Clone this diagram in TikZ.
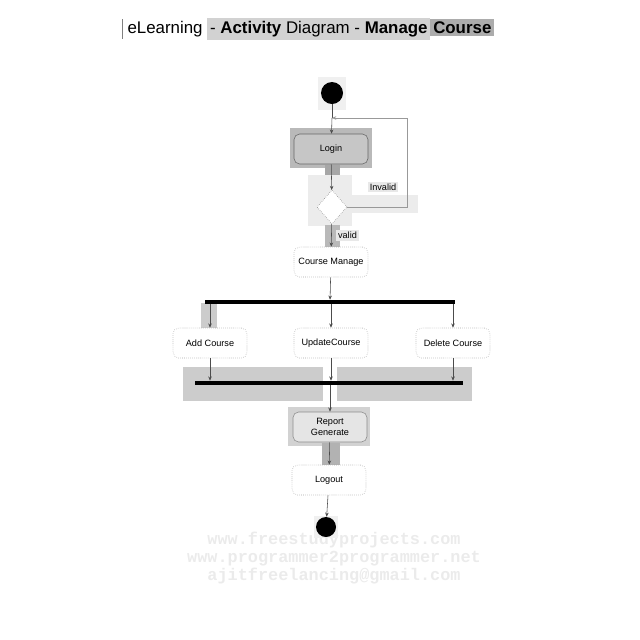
\documentclass[tikz,border=0pt]{standalone}
\usepackage{fontspec}
\setmainfont{Liberation Sans}
\setmonofont{Liberation Mono}
\usetikzlibrary{shapes.geometric,arrows.meta}
\tikzset{
	act/.style={draw=gray!70, densely dotted, rounded corners=4pt, fill=white,
		minimum width=1.85cm, minimum height=0.75cm, inner sep=1pt,
		font=\fontsize{6.5}{7.5}\selectfont, align=center},
	bar/.style={fill=black, minimum height=0.1cm, inner sep=0pt},
	flow/.style={draw=black!70, -{Stealth[length=3pt,width=2.5pt]}},
	dot/.style={fill=black, circle, inner sep=0pt},
	tag/.style={font=\fontsize{6.5}{7.5}\selectfont, fill=gray!18, inner sep=1.5pt}
}
\begin{document}
\begin{tikzpicture}[x=0.025cm,y=-0.025cm]
	\useasboundingbox (0,0) rectangle (640,640);
	% title
	\node[font=\fontsize{12}{14}\selectfont, inner sep=0pt, anchor=west] (title) at (122,29)
		{\setlength{\fboxsep}{2pt}{\color{gray}\vrule height 10pt depth 4pt}\ eLearning \colorbox{gray!35}{- \textbf{Activity} Diagram - \textbf{Manage}}\colorbox{gray!65}{\textbf{Course}}};
	% watermark
	\node[font=\fontsize{12}{13}\ttfamily\bfseries, text=gray!16, align=center] (mark) at (334,558)
		{www.freestudyprojects.com\\www.programmer2programmer.net\\ajitfreelancing@gmail.com};
	% highlights
	\fill[gray!12] (318,77) rectangle (346,110);
	\fill[gray!55] (290,128) rectangle (372,168);
	\fill[gray!70] (325,165) rectangle (340,195);
	\fill[gray!15] (308,175) rectangle (352,226);
	\fill[gray!15] (350,195) rectangle (418,213);
	\fill[gray!55] (325,225) rectangle (340,248);
	\fill[gray!40] (201,303) rectangle (217,328);
	\fill[gray!40] (183,367) rectangle (323,401);
	\fill[gray!40] (337,367) rectangle (472,401);
	\fill[gray!35] (288,407) rectangle (370,446);
	\fill[gray!60] (322,443) rectangle (340,465);
	\fill[gray!12] (314,516) rectangle (338,538);
	% nodes
	\node[dot, minimum size=0.55cm] (start) at (332,93) {};
	\coordinate (merge) at (332,118);
	\node[act, solid, draw=black!60, fill=gray!45] (login) at (331,149) {Login};
	\node[diamond, draw=gray, densely dotted, fill=white, minimum width=0.75cm, minimum height=0.85cm, inner sep=0pt] (dec) at (332,207) {};
	\coordinate (turn) at (407,207);
	\node[act] (manage) at (331,262) {Course Manage};
	\node[bar, minimum width=6.25cm] (fork) at (330,302) {};
	\node[act] (add) at (210,343) {Add Course};
	\node[act] (update) at (331,343) {UpdateCourse};
	\node[act] (delete) at (453,343) {Delete Course};
	\node[bar, minimum width=6.7cm] (join) at (329,383) {};
	\node[act, solid, draw=gray!90, fill=gray!20] (report) at (330,427) {Report\\Generate};
	\node[act] (logout) at (329,480) {Logout};
	\node[dot, minimum size=0.5cm] (stop) at (326,527) {};
	% connectors
	\draw[black!70] (start) -- (merge);
	\draw[flow] (merge) -- (login);
	\draw[flow] (login) -- (dec);
	\draw[flow, draw=gray!80] (dec.east) -- (turn) |- (merge);
	\node[tag] (invalid) at (383,187) {Invalid};
	\draw[flow] (dec) -- (manage) node[midway, right=3pt, tag] (valid) {valid};
	\draw[flow] (manage) -- (fork);
	\draw[flow] (fork.south -| add.north) -- (add.north);
	\draw[flow] (fork.south -| update.north) -- (update.north);
	\draw[flow] (fork.south -| delete.north) -- (delete.north);
	\draw[flow] (add.south) -- (add.south |- join.north);
	\draw[flow] (update.south) -- (update.south |- join.north);
	\draw[flow] (delete.south) -- (delete.south |- join.north);
	\draw[flow] (join.south -| report.north) -- (report.north);
	\draw[flow] (report) -- (logout);
	\draw[flow] (logout) -- (stop);
\end{tikzpicture}
\end{document}
